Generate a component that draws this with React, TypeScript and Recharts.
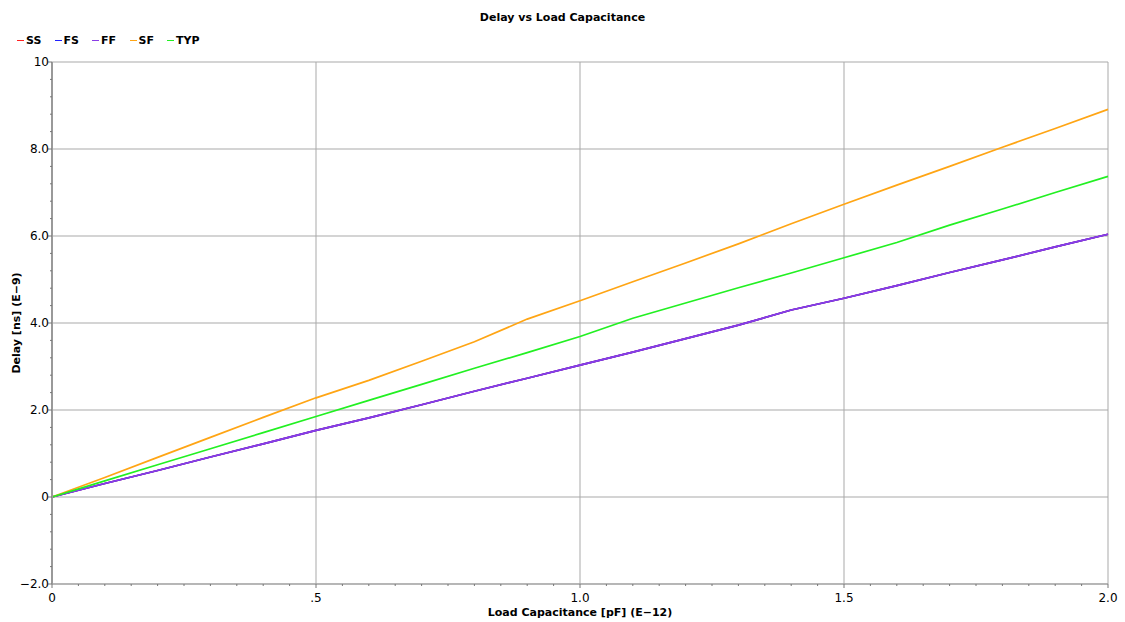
import React from 'react';
import { LineChart, Line, XAxis, YAxis, CartesianGrid, Legend } from 'recharts';

const CAPACITANCE = [0, 0.1, 0.2, 0.3, 0.4, 0.5, 0.6, 0.7, 0.8, 0.9, 1.0, 1.1, 1.2, 1.3, 1.4, 1.5, 1.6, 1.7, 1.8, 1.9, 2.0];

// SS and FS sit right under the FF trace in the plot
const SS = [0, 0.31, 0.61, 0.92, 1.22, 1.53, 1.82, 2.12, 2.43, 2.73, 3.03, 3.33, 3.64, 3.95, 4.3, 4.57, 4.86, 5.16, 5.45, 5.75, 6.04];
const FS = [0, 0.31, 0.61, 0.92, 1.22, 1.53, 1.82, 2.12, 2.43, 2.73, 3.03, 3.33, 3.64, 3.95, 4.3, 4.57, 4.86, 5.16, 5.45, 5.75, 6.04];
const FF = [0, 0.31, 0.61, 0.92, 1.22, 1.53, 1.82, 2.12, 2.43, 2.73, 3.03, 3.33, 3.64, 3.95, 4.3, 4.57, 4.86, 5.16, 5.45, 5.75, 6.04];
const SF = [0, 0.45, 0.91, 1.37, 1.83, 2.28, 2.68, 3.12, 3.57, 4.09, 4.51, 4.95, 5.38, 5.82, 6.28, 6.73, 7.17, 7.6, 8.04, 8.47, 8.91];
const TYP = [0, 0.37, 0.74, 1.11, 1.48, 1.85, 2.22, 2.59, 2.96, 3.32, 3.69, 4.11, 4.46, 4.81, 5.15, 5.5, 5.85, 6.25, 6.62, 7.0, 7.37];

const SERIES = [
  { key: 'SS', values: SS, color: '#ff2020' },
  { key: 'FS', values: FS, color: '#2020ff' },
  { key: 'FF', values: FF, color: '#8a3ee6' },
  { key: 'SF', values: SF, color: '#ffa514' },
  { key: 'TYP', values: TYP, color: '#22f022' },
];

const X_MAJOR = [0, 0.5, 1.0, 1.5, 2.0];
const X_MINOR = Array.from({ length: 41 }, (_, i) => +(i * 0.05).toFixed(2));
const Y_MAJOR = [-2, 0, 2, 4, 6, 8, 10];
const Y_MINOR = Array.from({ length: 31 }, (_, i) => +(-2 + i * 0.4).toFixed(1));

const FONT = '"DejaVu Sans", sans-serif';

const data = CAPACITANCE.map((c, i) => {
  const row: any = { cap: c };
  SERIES.forEach((s) => (row[s.key] = s.values[i]));
  return row;
});

const isMajor = (v: number, step: number) => Math.abs(v / step - Math.round(v / step)) < 1e-6;

const fmtX = (v: number) => (v === 0 ? '0' : v < 1 ? '.' + String(v).split('.')[1] : v.toFixed(1));
const fmtY = (v: number) => (v === 0 ? '0' : v === 10 ? '10' : (v < 0 ? '\u2212' : '') + Math.abs(v).toFixed(1));

const XTick = ({ x, y, payload }: any) => {
  const major = isMajor(payload.value, 0.5);
  return (
    <g>
      <line x1={x} x2={x} y1={y} y2={y + (major ? 4 : 2)} stroke="#777" />
      {major && (
        <text x={x} y={y + 18} textAnchor="middle" fontSize={12} fontFamily={FONT} fill="#000">
          {fmtX(payload.value)}
        </text>
      )}
    </g>
  );
};

const YTick = ({ x, y, payload }: any) => {
  const major = isMajor(payload.value, 2);
  return (
    <g>
      <line x1={x} x2={x - (major ? 4 : 2)} y1={y} y2={y} stroke="#777" />
      {major && (
        <text x={x - 3} y={y + 4} textAnchor="end" fontSize={12} fontFamily={FONT} fill="#000">
          {fmtY(payload.value)}
        </text>
      )}
    </g>
  );
};

const XLabel = ({ viewBox }: any) => (
  <text x={viewBox.x + viewBox.width / 2} y={viewBox.y + 32} textAnchor="middle" fontSize={11} fontWeight="bold" fontFamily={FONT} fill="#000">
    Load Capacitance [pF] (E−12)
  </text>
);

const YLabel = ({ viewBox }: any) => {
  const cx = viewBox.x + 20;
  const cy = viewBox.y + viewBox.height / 2;
  return (
    <text x={cx} y={cy} transform={`rotate(-90 ${cx} ${cy})`} textAnchor="middle" fontSize={11} fontWeight="bold" fontFamily={FONT} fill="#000">
      Delay [ns] (E−9)
    </text>
  );
};

const renderLegend = ({ payload }: any) => (
  <div style={{ display: 'flex', fontFamily: FONT, fontSize: 11, fontWeight: 'bold' }}>
    {payload.map((p: any) => (
      <div key={p.value} style={{ width: 37.5, display: 'flex', alignItems: 'center' }}>
        <span style={{ display: 'inline-block', width: 7, height: 1, background: p.color, marginRight: 2 }} />
        <span>{p.value}</span>
      </div>
    ))}
  </div>
);

const legendOrder = (item: any) => SERIES.findIndex((s) => s.key === item.value);

export default function App() {
  return (
    <div style={{ position: 'absolute', left: 0, top: 0, width: 1125, height: 622, background: '#fff' }}>
      <div style={{ position: 'absolute', top: 11, width: 1125, textAlign: 'center', fontFamily: FONT, fontSize: 11, fontWeight: 'bold' }}>
        Delay vs Load Capacitance
      </div>
      <LineChart width={1125} height={622} data={data} margin={{ top: 62, right: 17, left: 0, bottom: 0 }}>
        <XAxis xAxisId="g" dataKey="cap" type="number" domain={[0, 2]} ticks={X_MAJOR} allowDataOverflow hide />
        <YAxis yAxisId="g" type="number" domain={[-2, 10]} ticks={Y_MAJOR} allowDataOverflow hide />
        <CartesianGrid xAxisId="g" yAxisId="g" stroke="#a9a9a9" strokeWidth={1} />
        <XAxis
          dataKey="cap"
          type="number"
          domain={[0, 2]}
          ticks={X_MINOR}
          interval={0}
          height={38}
          tickSize={0}
          tickMargin={0}
          tickLine={false}
          tick={<XTick />}
          axisLine={{ stroke: '#999', strokeWidth: 1 }}
          label={<XLabel />}
        />
        <YAxis
          type="number"
          domain={[-2, 10]}
          ticks={Y_MINOR}
          interval={0}
          width={52}
          tickSize={0}
          tickMargin={0}
          tickLine={false}
          tick={<YTick />}
          axisLine={{ stroke: '#999', strokeWidth: 2 }}
          label={<YLabel />}
        />
        <Legend
          layout="horizontal"
          verticalAlign="middle"
          align="center"
          content={renderLegend}
          itemSorter={legendOrder}
          wrapperStyle={{ top: 34, left: 17, width: 260 }}
        />
        {SERIES.map((s) => (
          <Line
            key={s.key}
            dataKey={s.key}
            stroke={s.color}
            strokeWidth={1.7}
            dot={false}
            isAnimationActive={false}
          />
        ))}
      </LineChart>
    </div>
  );
}
